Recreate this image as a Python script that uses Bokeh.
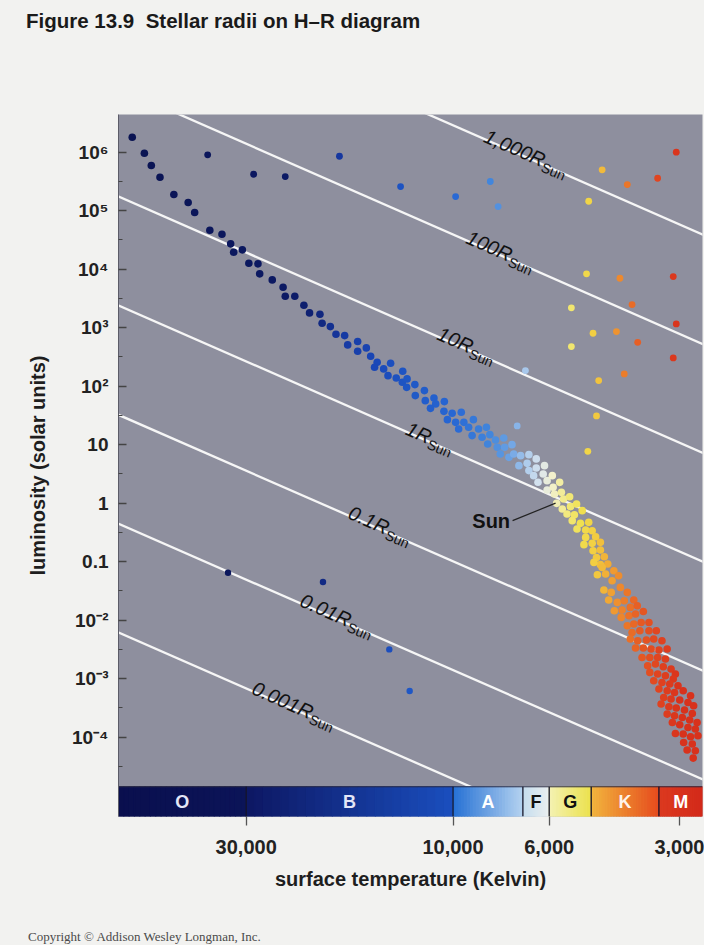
import math
import numpy as np
from bokeh.plotting import figure
from bokeh.layouts import column
from bokeh.models import Range1d, FixedTicker, NumeralTickFormatter, CustomJSTickFormatter, Div
from bokeh.core.properties import value
from bokeh.embed import file_html
from bokeh.resources import INLINE

FONT = "Liberation Sans"

# ---------------- data ----------------
# main-sequence stars: log10 temperature (K), log10 luminosity (solar units)
ms_log_temp = [4.740, 4.712, 4.696, 4.676, 4.644, 4.611, 4.596, 4.561, 4.533, 4.513, 4.506, 4.486,
               4.471, 4.450, 4.446, 4.417, 4.392, 4.387, 4.365, 4.344, 4.331, 4.307, 4.302, 4.283,
               4.270, 4.250, 4.243, 4.220, 4.220, 4.200, 4.190, 4.175, 4.181, 4.160, 4.144, 4.150,
               4.131, 4.116, 4.117, 4.107, 4.088, 4.087, 4.106, 4.066, 4.064, 4.044, 4.040, 4.020,
               4.052, 4.021, 4.002, 3.981, 4.013, 3.994, 3.975, 3.953, 3.987, 3.964, 3.941, 3.923,
               3.956, 3.933, 3.915, 3.902, 3.883, 3.920, 3.898, 3.881, 3.864, 3.891, 3.871, 3.860,
               3.844, 3.825, 3.848, 3.829, 3.808, 3.825, 3.808, 3.789, 3.814, 3.792, 3.804, 3.783,
               3.771, 3.783, 3.769, 3.754, 3.766, 3.750, 3.761, 3.745, 3.731, 3.748, 3.729, 3.715,
               3.737, 3.720, 3.702, 3.725, 3.706, 3.687, 3.714, 3.694, 3.679, 3.694, 3.671, 3.698,
               3.679, 3.660, 3.677, 3.660, 3.669, 3.651, 3.660, 3.643, 3.675, 3.629, 3.648, 3.618,
               3.656, 3.667, 3.633, 3.652, 3.635, 3.614, 3.598, 3.641, 3.621, 3.605, 3.583, 3.628,
               3.610, 3.591, 3.575, 3.612, 3.594, 3.579, 3.561, 3.598, 3.583, 3.566, 3.548, 3.587,
               3.569, 3.548, 3.531, 3.591, 3.574, 3.554, 3.537, 3.518, 3.579, 3.561, 3.543, 3.525,
               3.506, 3.564, 3.546, 3.528, 3.510, 3.551, 3.533, 3.515, 3.497, 3.487, 3.546, 3.528,
               3.510, 3.492, 3.537, 3.518, 3.500, 3.481, 3.525, 3.506, 3.489, 3.469, 3.452, 3.514,
               3.497, 3.477, 3.458, 3.445, 3.520, 3.502, 3.485, 3.466, 3.448, 3.506, 3.489, 3.471,
               3.454, 3.437, 3.494, 3.477, 3.458, 3.441, 3.487, 3.469, 3.452, 3.435, 3.468, 3.448,
               3.460, 3.441, 3.446]
ms_log_lum = [6.253, 5.979, 5.769, 5.569, 5.274, 5.137, 4.966, 4.663, 4.595, 4.431, 4.287, 4.328,
              4.099, 4.089, 3.918, 3.815, 3.689, 3.535, 3.535, 3.381, 3.251, 3.227, 3.074, 3.017,
              2.885, 2.863, 2.704, 2.761, 2.595, 2.653, 2.509, 2.407, 2.321, 2.294, 2.390, 2.179,
              2.140, 2.253, 2.065, 1.979, 2.026, 1.838, 2.123, 1.923, 1.752, 1.798, 1.696, 1.735,
              1.620, 1.569, 1.535, 1.552, 1.427, 1.381, 1.381, 1.427, 1.268, 1.296, 1.268, 1.296,
              1.154, 1.125, 1.171, 1.080, 1.114, 1.012, 0.954, 0.954, 1.000, 0.841, 0.783, 0.841,
              0.812, 0.829, 0.641, 0.680, 0.756, 0.556, 0.602, 0.641, 0.470, 0.499, 0.356, 0.385,
              0.470, 0.226, 0.270, 0.356, 0.157, 0.185, -0.003, 0.072, 0.111, -0.099, -0.060, -0.014,
              -0.185, -0.197, -0.128, -0.299, -0.345, -0.328, -0.441, -0.458, -0.470, -0.585, -0.573, -0.709,
              -0.687, -0.670, -0.812, -0.800, -0.927, -0.915, -1.051, -1.039, -1.012, -1.154, -1.210, -1.239,
              -1.098, -1.222, -1.325, -1.484, -1.525, -1.439, -1.525, -1.655, -1.696, -1.667, -1.655, -1.838,
              -1.826, -1.781, -1.752, -1.952, -1.923, -1.894, -1.850, -2.094, -2.065, -2.038, -2.038, -2.209,
              -2.180, -2.180, -2.180, -2.321, -2.350, -2.339, -2.321, -2.350, -2.475, -2.475, -2.492, -2.510,
              -2.492, -2.636, -2.636, -2.636, -2.663, -2.778, -2.749, -2.795, -2.834, -2.920, -2.892, -2.920,
              -2.949, -3.005, -3.034, -3.063, -3.091, -3.120, -3.176, -3.205, -3.234, -3.205, -3.291, -3.320,
              -3.347, -3.364, -3.405, -3.462, -3.433, -3.479, -3.501, -3.535, -3.593, -3.604, -3.633, -3.662,
              -3.706, -3.747, -3.747, -3.786, -3.833, -3.860, -3.935, -3.945, -3.992, -3.974, -4.089, -4.116,
              -4.219, -4.231, -4.356]

# giants and supergiants
giant_log_temp = [4.566, 4.460, 4.387, 4.262, 4.121, 3.994, 3.914, 3.896, 3.833, 3.852,
                  3.656, 3.687, 3.598, 3.528, 3.485, 3.692, 3.615, 3.492, 3.727, 3.587,
                  3.485, 3.677, 3.623, 3.727, 3.574, 3.492, 3.605, 3.664, 3.669, 3.689]
giant_log_lum = [5.952, 5.620, 5.581, 5.928, 5.410, 5.239, 5.496, 5.068, 2.265, 1.320,
                 5.696, 5.159, 5.444, 5.552, 5.997, 3.918, 3.843, 3.872, 3.337, 3.393,
                 3.063, 2.903, 2.932, 2.675, 2.749, 2.482, 2.209, 2.094, 1.491, 0.885]

# white dwarfs
wd_log_temp = [4.519, 4.300, 4.147, 4.100]
wd_log_lum = [-1.188, -1.347, -2.499, -3.210]

# lines of constant radius (luminosity read at a hot and a cool temperature)
radius_labels = ["1,000", "100", "10", "1", "0.1", "0.01", "0.001"]
line_temp_hot = 60000
line_temp_cool = 2600
line_log_lum_hot = [8.98, 7.12, 5.26, 3.40, 1.53, -0.33, -2.19]
line_log_lum_cool = [4.56, 2.69, 0.83, -1.03, -2.89, -4.75, -6.61]
label_temps = [6660, 7940, 9770, 12200, 15260, 18670, 22850]

# spectral classes
spectral_classes = ["O", "B", "A", "F", "G", "K", "M"]
class_bounds = [30000, 10000, 6900, 6000, 4800, 3350]

# axes
x_ticks = [30000, 10000, 6000, 3000]
y_ticks = [1e-4, 1e-3, 1e-2, 0.1, 1, 10, 100, 1e3, 1e4, 1e5, 1e6]
y_tick_labels = ["10⁻⁴", "10⁻³", "10⁻²", "0.1", "1", "10", "10²", "10³", "10⁴", "10⁵", "10⁶"]

sun_temp, sun_lum = 5800, 1.0

title_text = "Figure 13.9  Stellar radii on H–R diagram"
credit_text = "Copyright © Addison Wesley Longman, Inc."

# ---------------- styles ----------------
star_color_stops = [(55000, "#0a1352"), (24000, "#0c1a64"), (21000, "#0f2274"), (18200, "#1638a0"),
                    (15000, "#1a48b8"), (12500, "#1f58c6"), (9900, "#2868d4"), (8200, "#4286dc"),
                    (7360, "#6ea4e4"), (6810, "#a8c8ec"), (6280, "#dce6ee"), (5900, "#f2f0cc"),
                    (5510, "#f2ea84"), (5080, "#f0e050"), (4690, "#f2cc40"), (4340, "#f0a434"),
                    (4000, "#eb7a2a"), (3700, "#e55a24"), (3320, "#df4220"), (2990, "#d8321c")]
class_colors = [("#0a0f4e", "#0b1458"), ("#0d1762", "#1a4ebe"), ("#2470d4", "#b4d2f0"),
                ("#c4dcee", "#eaeff0"), ("#f4f2b4", "#ece24e"), ("#f2b63e", "#e64c1e"),
                ("#dc3a20", "#d32a1a")]
class_text_colors = ["#e4e6f6", "#e4e6f6", "#ffffff", "#111111", "#111111", "#fff4ea", "#ffffff"]
PAGE_BG = "#f2f2f0"


def hex2rgb(h):
    return np.array([int(h[i:i + 2], 16) for i in (1, 3, 5)], dtype=float)


def rgb2hex(c):
    return "#%02x%02x%02x" % tuple(int(round(v)) for v in c)


def ramp(log_t):
    xs = np.log10([s[0] for s in star_color_stops])[::-1]
    rgb = np.array([hex2rgb(s[1]) for s in star_color_stops])[::-1]
    return [rgb2hex([np.interp(v, xs, rgb[:, k]) for k in range(3)]) for v in log_t]


# ---------------- layout sizes ----------------
W = 704
TITLE_H, CREDIT_H = 40, 16
FIG_H = 945 - TITLE_H - CREDIT_H
B_LEFT, B_RIGHT, B_TOP = 118, 2, 114 - TITLE_H
frame_w = W - B_LEFT - B_RIGHT
frame_h = 702
B_BOTTOM = FIG_H - B_TOP - frame_h

T_HOT, T_COOL = 10 ** 4.7717, 10 ** 3.4245
L_LO, L_HI = 10 ** -5.354, 10 ** 6.641
BAR_TOP = 10 ** -4.846

p = figure(width=W, height=FIG_H, x_axis_type="log", y_axis_type="log",
           x_range=Range1d(T_HOT, T_COOL), y_range=Range1d(L_LO, L_HI),
           output_backend="svg", toolbar_location=None,
           min_border_left=B_LEFT, min_border_right=B_RIGHT,
           min_border_top=B_TOP, min_border_bottom=B_BOTTOM,
           background_fill_color="#8e8f9e", border_fill_color=PAGE_BG,
           outline_line_color=None, margin=0)
p.xgrid.visible = False
p.ygrid.visible = False

ppd_x = frame_w / (math.log10(T_HOT) - math.log10(T_COOL))
ppd_y = frame_h / (math.log10(L_HI) - math.log10(L_LO))


def shift(T, L, dx, dy):
    """move a data point by dx (right) and dy (down) screen pixels"""
    return T * 10 ** (-dx / ppd_x), L * 10 ** (-dy / ppd_y)


# x axis
xa = p.xaxis[0]
xa.ticker = FixedTicker(ticks=x_ticks, minor_ticks=[])
xa.formatter = NumeralTickFormatter(format="0,0")
xa.axis_line_color = None
xa.major_tick_line_color = "#555555"
xa.major_tick_line_width = 1.3
xa.major_tick_out = 9
xa.major_tick_in = 0
xa.minor_tick_line_color = None
xa.major_label_text_font = FONT
xa.major_label_text_font_size = "20px"
xa.major_label_text_font_style = "bold"
xa.major_label_text_color = "#222222"
xa.major_label_standoff = 14
xa.axis_label = "surface temperature (Kelvin)"
xa.axis_label_text_font = FONT
xa.axis_label_text_font_size = "20px"
xa.axis_label_text_font_style = "bold"
xa.axis_label_text_color = "#1e1e1e"
xa.axis_label_standoff = 11

# y axis
ya = p.yaxis[0]
ya.ticker = FixedTicker(ticks=y_ticks, minor_ticks=[10 ** (k + 0.5) for k in range(-5, 6)])
ya.formatter = CustomJSTickFormatter(
    args=dict(exps=[int(round(math.log10(t))) for t in y_ticks], labels=y_tick_labels),
    code="""
    const e = Math.round(Math.log10(tick));
    const i = exps.indexOf(e);
    return i >= 0 ? labels[i] : "";
""")
ya.axis_line_color = "#5c5c68"
ya.major_tick_line_color = "#444444"
ya.major_tick_line_width = 1.3
ya.major_tick_in = 8
ya.major_tick_out = 0
ya.minor_tick_line_color = "#444444"
ya.minor_tick_in = 4
ya.minor_tick_out = 0
ya.major_label_text_font = FONT
ya.major_label_text_font_size = "19px"
ya.major_label_text_font_style = "bold"
ya.major_label_text_color = "#222222"
ya.major_label_standoff = 10
ya.axis_label = "luminosity (solar units)"
ya.axis_label_text_font = FONT
ya.axis_label_text_font_size = "20px"
ya.axis_label_text_font_style = "bold"
ya.axis_label_text_color = "#1e1e1e"
ya.axis_label_standoff = 20

# lines of constant radius
n_lines = len(radius_labels)
p.segment(x0=[line_temp_hot] * n_lines, y0=list(10 ** np.array(line_log_lum_hot)),
          x1=[line_temp_cool] * n_lines, y1=list(10 ** np.array(line_log_lum_cool)),
          line_color="#f6f6f6", line_width=2.3)

# spectral class bar with gradients
edges = [T_HOT] + class_bounds + [T_COOL]
q_left, q_right, q_col = [], [], []
NSUB = 24
for i, (c0, c1) in enumerate(class_colors):
    lt = np.linspace(math.log10(edges[i]), math.log10(edges[i + 1]), NSUB + 1)
    a, b = hex2rgb(c0), hex2rgb(c1)
    for k in range(NSUB):
        f = (k + 0.5) / NSUB
        q_left.append(10 ** lt[k])
        q_right.append(10 ** lt[k + 1])
        q_col.append(rgb2hex(a + (b - a) * f))
p.quad(left=q_left, right=q_right, bottom=L_LO, top=BAR_TOP,
       fill_color=q_col, line_color=q_col, line_width=1.2)
p.segment(x0=[T_HOT], y0=[BAR_TOP], x1=[T_COOL], y1=[BAR_TOP], line_color="#2c2c44", line_width=1)
p.segment(x0=class_bounds, y0=[L_LO] * len(class_bounds), x1=class_bounds,
          y1=[BAR_TOP] * len(class_bounds), line_color="#15152a", line_width=1.3)
p.text(x=[math.sqrt(edges[i] * edges[i + 1]) for i in range(len(spectral_classes))],
       y=[math.sqrt(L_LO * BAR_TOP)] * len(spectral_classes), text=spectral_classes,
       text_align="center", text_baseline="middle", text_font=value(FONT),
       text_font_size="18px", text_font_style="bold", text_color=class_text_colors)

# stars
p.scatter(x=list(10 ** np.array(ms_log_temp)), y=list(10 ** np.array(ms_log_lum)), size=7.6,
          fill_color=ramp(ms_log_temp), line_color=None)
p.scatter(x=list(10 ** np.array(giant_log_temp)), y=list(10 ** np.array(giant_log_lum)), size=6.8,
          fill_color=ramp(giant_log_temp), line_color=None)
p.scatter(x=list(10 ** np.array(wd_log_temp)), y=list(10 ** np.array(wd_log_lum)), size=6.4,
          fill_color=ramp(wd_log_temp), line_color=None)

# labels on the radius lines
lt_hot, lt_cool = math.log10(line_temp_hot), math.log10(line_temp_cool)
nx, ny, sx_, sy_, ang = [], [], [], [], []
for i in range(n_lines):
    m = (line_log_lum_cool[i] - line_log_lum_hot[i]) / (lt_cool - lt_hot)
    ll = line_log_lum_hot[i] + m * (math.log10(label_temps[i]) - lt_hot)
    th = math.atan(m * ppd_y / ppd_x)
    T0, L0 = label_temps[i], 10 ** ll
    T1, L1 = shift(T0, L0, 4 * math.sin(th), -4 * math.cos(th))
    T2, L2 = shift(T0, L0, 14.5 * math.cos(th) - 2 * math.sin(th), 14.5 * math.sin(th) + 2 * math.cos(th))
    nx.append(T1); ny.append(L1); sx_.append(T2); sy_.append(L2); ang.append(-th)

p.text(x=nx, y=ny, text=radius_labels, angle=ang, text_align="right", text_baseline="alphabetic",
       text_font=value(FONT), text_font_size="20px", text_font_style="italic", text_color="#111111")
p.text(x=nx, y=ny, text=["R"] * n_lines, angle=ang, text_align="left", text_baseline="alphabetic",
       text_font=value(FONT), text_font_size="20px", text_font_style="italic", text_color="#111111")
p.text(x=sx_, y=sy_, text=["Sun"] * n_lines, angle=ang, text_align="left", text_baseline="middle",
       text_font=value(FONT), text_font_size="14px", text_color="#111111")

# the Sun
lx, ly = shift(sun_temp, sun_lum, -43, 17.5)
p.segment(x0=[sun_temp], y0=[sun_lum], x1=[lx], y1=[ly], line_color="#222222", line_width=1.2)
tx, ty = shift(sun_temp, sun_lum, -45.5, 17.5)
p.text(x=[tx], y=[ty], text=["Sun"], text_align="right", text_baseline="middle",
       text_font=value(FONT), text_font_size="20px", text_font_style="bold", text_color="#111111")

# title and credit lines (HTML text above and below the figure)
title_div = Div(
    text=('<div style="font-family:\'Liberation Sans\';font-size:20.5px;font-weight:bold;'
          'color:#1a1a1a;line-height:24px;padding:9px 0 0 26px;white-space:pre;">'
          + title_text + '</div>'),
    width=W, height=TITLE_H, margin=0, styles={"background-color": PAGE_BG})
credit_div = Div(
    text=('<div style="font-family:\'Liberation Serif\';font-size:13px;color:#4a4a4a;'
          'line-height:16px;padding:0 0 0 28px;white-space:pre;">' + credit_text + '</div>'),
    width=W, height=CREDIT_H, margin=0, styles={"background-color": PAGE_BG})

layout = column(title_div, p, credit_div, spacing=0, margin=0,
                styles={"background-color": PAGE_BG})

open("out.html", "w").write(file_html(layout, INLINE))
